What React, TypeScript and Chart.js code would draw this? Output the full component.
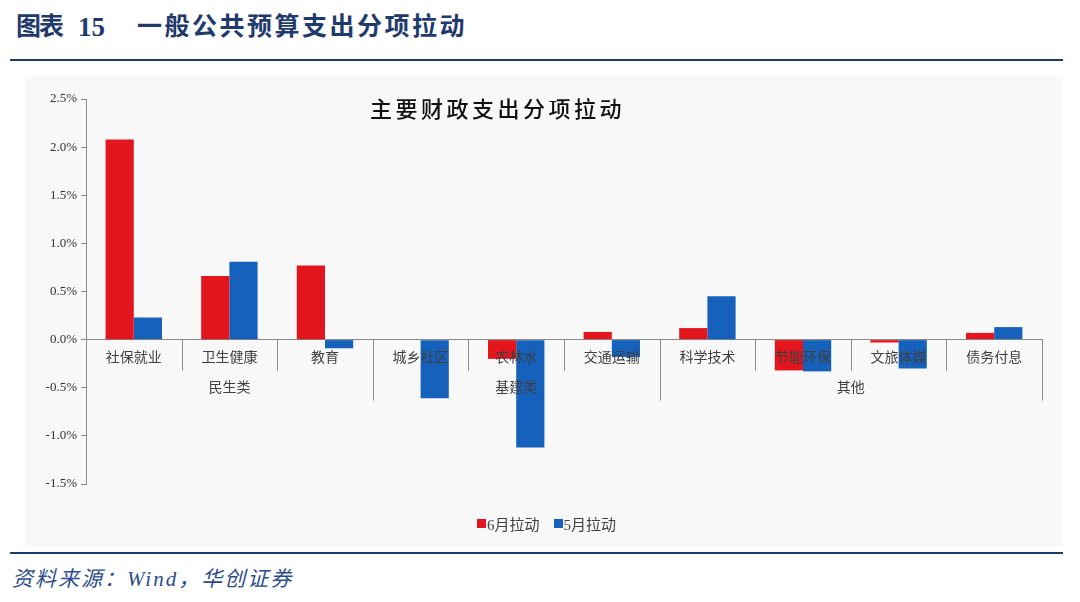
import React, { useEffect, useRef } from 'react'
import { Chart, registerables } from 'chart.js'
Chart.register(...registerables)

const categories = ['社保就业', '卫生健康', '教育', '城乡社区', '农林水', '交通运输', '科学技术', '节能环保', '文旅体媒', '债务付息']
const june = [2.08, 0.66, 0.77, 0.0, -0.2, 0.08, 0.12, -0.32, -0.03, 0.07]
const may = [0.23, 0.81, -0.09, -0.61, -1.12, -0.18, 0.45, -0.33, -0.3, 0.13]
const groups = [
  { label: '民生类', from: 0, to: 2 },
  { label: '基建类', from: 3, to: 5 },
  { label: '其他', from: 6, to: 9 },
]
const seriesNames = ['6月拉动', '5月拉动']
const colors = ['#E3161E', '#1661BB']

const navy = '#1F3B6E'
const cjk = '"Liberation Serif", "Noto Sans CJK SC", serif'

// category labels are drawn over the bars, as in the source, plus separators and group labels
const groupAxis = {
  id: 'groupAxis',
  afterDraw(chart: any) {
    const x = chart.scales.x
    const y = chart.scales.y
    const ctx = chart.ctx
    const y0 = y.getPixelForValue(0)
    const step = (x.right - x.left) / categories.length
    const groupEnds = new Set(groups.map(g => g.to))
    ctx.save()
    ctx.strokeStyle = '#8a8a8a'
    ctx.lineWidth = 1
    for (let i = 0; i < categories.length; i++) {
      const bx = Math.round(x.getPixelForValue(i) + step / 2) + 0.5
      const len = groupEnds.has(i) ? 61 : 31
      ctx.beginPath()
      ctx.moveTo(bx, y0)
      ctx.lineTo(bx, y0 + len)
      ctx.stroke()
    }
    ctx.fillStyle = '#404040'
    ctx.font = '14px ' + cjk
    ctx.textAlign = 'center'
    ctx.textBaseline = 'middle'
    categories.forEach((c, i) => ctx.fillText(c, x.getPixelForValue(i), y0 + 19))
    groups.forEach(g => {
      const cx = (x.getPixelForValue(g.from) + x.getPixelForValue(g.to)) / 2
      ctx.fillText(g.label, cx, y0 + 49)
    })
    ctx.restore()
  },
}

const BarChart: React.FC = () => {
  const ref = useRef<HTMLCanvasElement | null>(null)
  useEffect(() => {
    if (!ref.current) return
    const chart = new Chart(ref.current, {
      type: 'bar',
      data: {
        labels: categories,
        datasets: [
          { label: seriesNames[0], data: june, backgroundColor: colors[0] },
          { label: seriesNames[1], data: may, backgroundColor: colors[1] },
        ],
      },
      options: {
        animation: false,
        responsive: true,
        maintainAspectRatio: false,
        layout: { padding: { left: 0, right: 20, top: 23, bottom: 62 } },
        datasets: { bar: { barPercentage: 1, categoryPercentage: 0.59 } },
        plugins: {
          legend: { display: false },
          tooltip: { enabled: false },
        },
        scales: {
          x: {
            position: { y: 0 },
            grid: { display: false },
            border: { display: true, color: '#8a8a8a' },
            ticks: { display: false },
          },
          y: {
            min: -1.5,
            max: 2.5,
            afterFit: (s: any) => { s.width = 61 },
            grid: { drawOnChartArea: false, drawTicks: true, tickLength: 5, color: '#8a8a8a' },
            border: { display: true, color: '#8a8a8a' },
            ticks: {
              stepSize: 0.5,
              color: '#333',
              padding: 4,
              font: { family: '"Liberation Serif", serif', size: 13 },
              callback: (v: any) => Number(v).toFixed(1) + '%',
            },
          },
        },
      },
      plugins: [groupAxis],
    })
    return () => chart.destroy()
  }, [])
  return <canvas ref={ref} />
}

const Legend: React.FC = () => (
  <div style={{ position: 'absolute', left: 452, top: 437, display: 'flex', gap: 14, fontFamily: cjk, fontSize: 15, color: '#404040', whiteSpace: 'nowrap' }}>
    {seriesNames.map((n, i) => (
      <span key={n} style={{ display: 'flex', alignItems: 'center' }}>
        <span style={{ display: 'inline-block', width: 9, height: 9, background: colors[i], marginRight: 1 }} />
        {n}
      </span>
    ))}
  </div>
)

const headFont = '"Liberation Serif", "Noto Sans CJK SC", serif'

export default function App() {
  return (
    <div style={{ position: 'absolute', left: 0, top: 0, width: 1080, height: 602, background: '#fff', overflow: 'hidden' }}>
      <div style={{ position: 'absolute', top: 10, left: 0, color: navy, fontFamily: headFont, fontWeight: 700, fontSize: 25, whiteSpace: 'nowrap', lineHeight: '34px' }}>
        <span style={{ position: 'absolute', left: 16, letterSpacing: -2 }}>图表</span>
        <span style={{ position: 'absolute', left: 78, fontSize: 27 }}>15</span>
        <span style={{ position: 'absolute', left: 137, letterSpacing: 2.5 }}>一般公共预算支出分项拉动</span>
      </div>
      <div style={{ position: 'absolute', left: 10, top: 59, width: 1053, height: 2, background: navy }} />
      <div style={{ position: 'absolute', left: 25, top: 76, width: 1037, height: 470, background: '#f8f8f8' }}>
        <BarChart />
        <div style={{ position: 'absolute', left: 0, width: '100%', top: 15, textAlign: 'center', fontFamily: '"Noto Sans CJK SC", serif', fontWeight: 500, fontSize: 22, letterSpacing: 3.5, color: '#111', pointerEvents: 'none' }}>
          <span style={{ position: 'relative', left: -46 }}>主要财政支出分项拉动</span>
        </div>
        <Legend />
      </div>
      <div style={{ position: 'absolute', left: 10, top: 552, width: 1053, height: 2, background: navy }} />
      <div style={{ position: 'absolute', left: 12, top: 562, color: '#2B4C8C', fontFamily: headFont, fontStyle: 'italic', fontSize: 21, letterSpacing: 2, whiteSpace: 'nowrap' }}>
        资料来源：Wind，华创证券
      </div>
    </div>
  )
}
